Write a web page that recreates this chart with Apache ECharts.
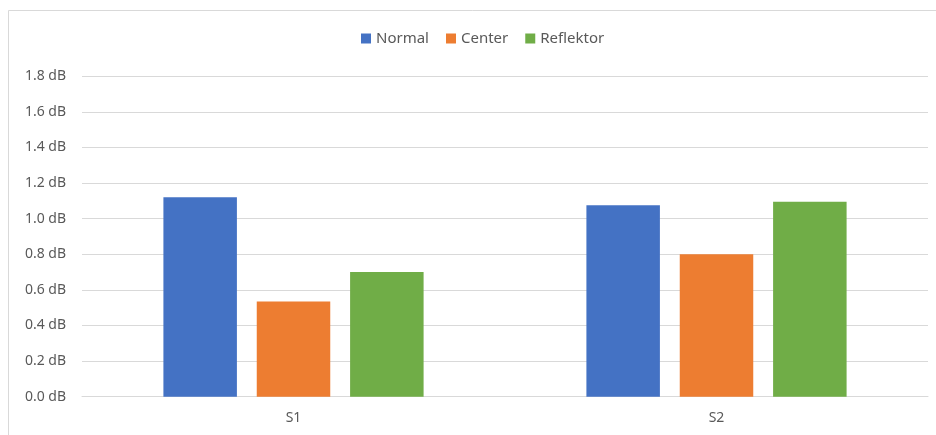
<!DOCTYPE html>
<html>
<head>
<meta charset="utf-8">
<script src="https://cdn.jsdelivr.net/npm/echarts@6/dist/echarts.min.js"></script>
<style>
html,body{margin:0;padding:0;background:#fff;}
#chart{width:936px;height:435px;}
</style>
</head>
<body>
<div id="chart"></div>
<script>
// Categories, series and axis ticks
const categories = ['S1', 'S2'];
const seriesNames = ['Normal', 'Center', 'Reflektor'];
const normalValues = [1.12, 1.075];
const centerValues = [0.535, 0.80];
const reflektorValues = [0.70, 1.095];
const yTicks = [0, 0.2, 0.4, 0.6, 0.8, 1.0, 1.2, 1.4, 1.6, 1.8];

const colors = ['#4472C4', '#ED7D31', '#70AD47'];
const fontFamily = '"Noto Sans", "Open Sans", sans-serif';
const textColor = '#595959';

const chart = echarts.init(document.getElementById('chart'), null, { renderer: 'canvas' });

const valuesBySeries = [normalValues, centerValues, reflektorValues];

chart.setOption({
  animation: false,
  backgroundColor: '#fff',
  graphic: [{
    type: 'rect',
    shape: { x: 8.5, y: 10.5, width: 1000, height: 1000 },
    style: { fill: 'none', stroke: '#d9d9d9', lineWidth: 1 },
    silent: true,
    z: -1
  }],
  legend: {
    top: 26,
    left: 356,
    itemWidth: 10,
    itemHeight: 10,
    itemGap: 17,
    icon: 'rect',
    textStyle: { color: textColor, fontSize: 15, fontFamily: fontFamily },
    data: seriesNames
  },
  grid: { left: 82, right: 8, top: 76.3, bottom: 38.3, containLabel: false },
  xAxis: {
    type: 'category',
    data: categories,
    axisLine: { lineStyle: { color: '#d9d9d9', width: 1 } },
    axisTick: { show: false },
    axisLabel: { color: textColor, fontSize: 14, fontFamily: fontFamily, margin: 14 }
  },
  yAxis: {
    type: 'value',
    min: yTicks[0],
    max: yTicks[yTicks.length - 1],
    interval: 0.2,
    axisLine: { show: false },
    axisTick: { show: false },
    splitLine: { lineStyle: { color: '#d9d9d9', width: 1 } },
    axisLabel: {
      color: textColor, fontSize: 14, fontFamily: fontFamily, margin: 16,
      formatter: v => v.toFixed(1) + ' dB'
    }
  },
  series: seriesNames.map((name, i) => ({
    name: name,
    type: 'bar',
    data: valuesBySeries[i],
    barWidth: 73.5,
    barGap: '27%',
    itemStyle: { color: colors[i] }
  }))
});
</script>
</body>
</html>
